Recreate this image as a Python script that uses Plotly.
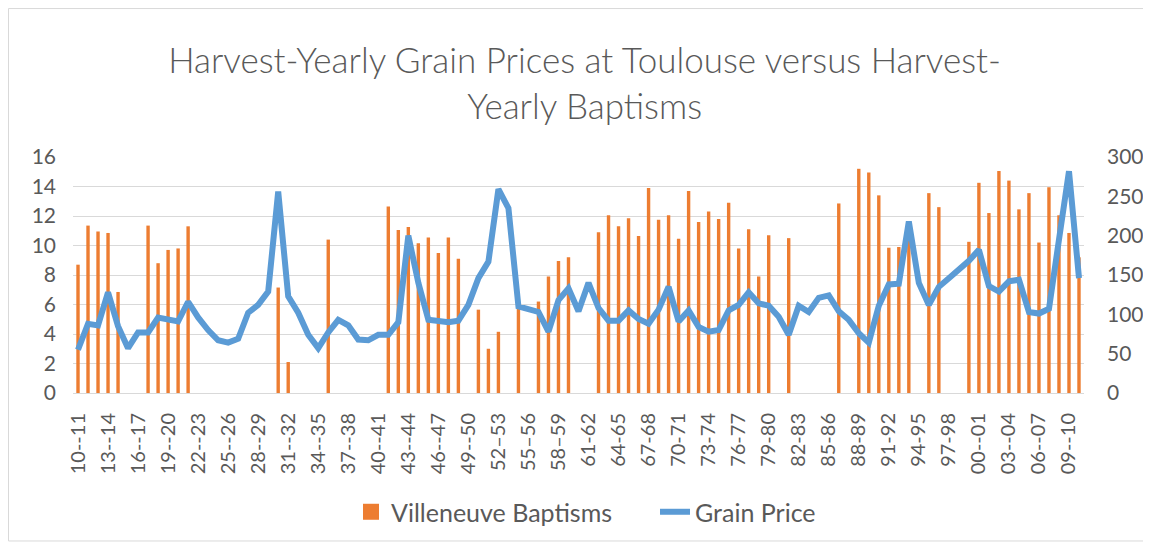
import plotly.graph_objects as go

# Harvest years 1710-11 ... 1810-11
start_years = list(range(1710, 1811))

def lab(y):
    a, b = y % 100, (y + 1) % 100
    if y < 1752 or y >= 1800:
        sep = "--"
    elif y < 1761:
        sep = "–"
    else:
        sep = "-"
    return f"{a:02d}{sep}{b:02d}"

labels = [lab(y) for y in start_years]

baptisms = [
    8.7, 11.35, 10.95, 10.85, 6.85, None, None, 11.35, 8.8, 9.7,
    9.8, 11.3, None, None, None, None, None, None, None, None,
    7.15, 2.1, None, None, None, 10.4, None, None, None, None,
    None, 12.65, 11.05, 11.25, 10.15, 10.55, 9.5, 10.55, 9.1, None,
    5.65, 3.0, 4.15, None, 5.7, None, 6.2, 7.9, 8.95, 9.2,
    None, None, 10.9, 12.05, 11.3, 11.85, 10.65, 13.9, 11.75, 12.05,
    10.45, 13.7, 11.6, 12.3, 11.8, 12.9, 9.8, 11.1, 7.9, 10.7,
    None, 10.5, None, None, None, None, 12.85, None, 15.2, 14.95,
    13.4, 9.85, 9.9, 10.4, None, 13.55, 12.6, None, None, 10.25,
    14.25, 12.2, 15.05, 14.4, 12.45, 13.55, 10.2, 13.95, 12.05, 10.85,
    9.2,
]

grain_price = [
    55, 88, 86, 128, 85, 57, 77, 77, 96, 93,
    91, 116, 96, 80, 67, 64, 69, 102, 112, 129,
    256, 123, 102, 74, 57, 77, 93, 86, 68, 67,
    74, 74, 90, 200, 140, 93, 92, 90, 92, 112,
    146, 167, 259, 235, 110, 107, 103, 78, 118, 133,
    104, 140, 108, 92, 92, 105, 94, 88, 106, 135,
    91, 105, 84, 78, 80, 105, 112, 128, 114, 111,
    97, 74, 111, 103, 121, 124, 104, 93, 76, 64,
    111, 138, 139, 218, 140, 112, 135, 146, 157, 168,
    182, 136, 129, 142, 144, 103, 101, 107, 195, 282,
    146,
]

left_ticks = [0, 2, 4, 6, 8, 10, 12, 14, 16]
right_ticks = [0, 50, 100, 150, 200, 250, 300]

x = list(range(len(labels)))
tick_idx = x[::3]

FONT = "Lato"
GREY = "#595959"
ORANGE = "#ED7D31"
BLUE = "#5B9BD5"

fig = go.Figure()
fig.add_trace(go.Bar(
    x=x, y=baptisms, name="Villeneuve Baptisms",
    marker=dict(color=ORANGE, line=dict(width=0)),
    width=0.34, yaxis="y", showlegend=False,
))
# legend entry with a larger square swatch
fig.add_trace(go.Scatter(
    x=[None], y=[None], name="Villeneuve Baptisms", mode="markers",
    marker=dict(symbol="square", size=16, color=ORANGE),
    yaxis="y", showlegend=True,
))
fig.add_trace(go.Scatter(
    x=x, y=grain_price, name="Grain Price", mode="lines",
    line=dict(color=BLUE, width=6, shape="linear"),
    yaxis="y2",
))

fig.update_layout(
    width=1151, height=544,
    margin=dict(l=65, r=75, t=149, b=159, autoexpand=False),
    paper_bgcolor="white", plot_bgcolor="white",
    font=dict(family=FONT, color=GREY, size=20),
    title=dict(
        text="Harvest-Yearly Grain Prices at Toulouse versus Harvest-<br>Yearly Baptisms",
        x=0.501, xanchor="center", y=0.88, yanchor="top",
        font=dict(family=FONT, size=35, color=GREY, weight=300),
    ),
    xaxis=dict(
        range=[-0.5, len(labels) - 0.5],
        tickmode="array", tickvals=tick_idx,
        ticktext=[labels[i] for i in tick_idx],
        tickangle=-90, showgrid=False, zeroline=False,
        showline=True, linecolor="#D9D9D9", linewidth=1,
        ticks="", tickfont=dict(size=20, color=GREY),
        ticklabelstandoff=11, automargin=False,
    ),
    yaxis=dict(
        range=[0, 16], tickvals=left_ticks,
        showgrid=True, gridcolor="#D9D9D9", gridwidth=1,
        zeroline=False, showline=False, ticks="",
        tickfont=dict(size=21, color=GREY),
        ticklabelstandoff=16, automargin=False,
    ),
    yaxis2=dict(
        range=[0, 300], tickvals=right_ticks,
        overlaying="y", side="right", showgrid=False,
        zeroline=False, showline=False, ticks="",
        tickfont=dict(size=21, color=GREY),
        ticklabelstandoff=22, automargin=False,
    ),
    legend=dict(
        orientation="h", x=0.275, xanchor="left",
        yref="container", y=0.0735, yanchor="middle",
        font=dict(size=25, color=GREY),
        traceorder="normal", itemsizing="trace",
        entrywidth=259, entrywidthmode="pixels",
    ),
    showlegend=True,
    shapes=[dict(
        type="rect", xref="paper", yref="paper",
        x0=-0.0638, x1=1.0633, y0=-0.627, y1=1.629,
        line=dict(color="#D9D9D9", width=1), fillcolor="rgba(0,0,0,0)",
        layer="below",
    )],
)

fig.write_html("out.html")
